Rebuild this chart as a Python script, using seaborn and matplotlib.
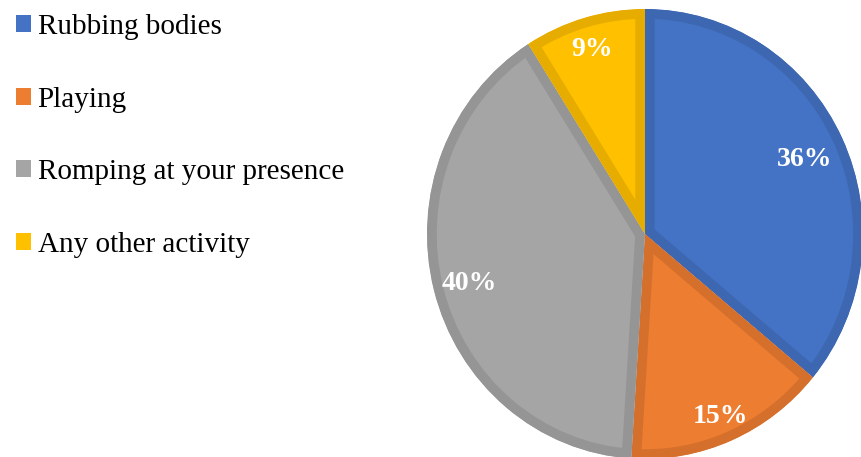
import numpy as np
import matplotlib
matplotlib.use("Agg")
import matplotlib.pyplot as plt
import seaborn as sns
from matplotlib.patches import Patch

categories = ["Rubbing bodies", "Playing", "Romping at your presence", "Any other activity"]
values = [36, 15, 40, 9]
labels = ["36%", "15%", "40%", "9%"]

fill_colors = ["#4472C4", "#ED7D31", "#A5A5A5", "#FFC000"]
edge_colors = ["#3E67B1", "#D5702C", "#959595", "#E6AD00"]
label_dist = [0.81, 0.87, 0.83, 0.87]

sns.set_theme(style="white")
plt.rcParams["font.family"] = ["Liberation Serif", "DejaVu Serif"]
plt.rcParams["text.color"] = "black"

fig = plt.figure(figsize=(8.62, 4.57), dpi=100)
ax = fig.add_axes([427/862, -2/457, 436/862, 450/457])

wedges, _ = ax.pie(values, colors=sns.color_palette(fill_colors), startangle=90,
                   counterclock=False, radius=1,
                   wedgeprops=dict(linewidth=14, antialiased=True))
for w, ec in zip(wedges, edge_colors):
    w.set_edgecolor(ec)
    w.set_clip_on(True)
    w.set_clip_path(w)

for w, lab, d in zip(wedges, labels, label_dist):
    ang = np.deg2rad((w.theta1 + w.theta2) / 2)
    ax.text(d * np.cos(ang), d * np.sin(ang), lab, ha="center", va="center_baseline",
            color="white", fontsize=20, fontweight="bold")

ax.set_xlim(-1, 1)
ax.set_ylim(-1, 1)
ax.set_aspect("auto")
ax.axis("off")

handles = [Patch(facecolor=c, edgecolor="none") for c in fill_colors]
leg = fig.legend(handles, categories, loc="upper left", bbox_to_anchor=(16/862, 1 - 14/457),
                 frameon=False, fontsize=21, handlelength=0.52, handleheight=0.52,
                 handletextpad=0.22, labelspacing=1.6, borderaxespad=0, borderpad=0)
for t in leg.get_texts():
    t.set_color("black")

fig.savefig("out.png", dpi=100)
